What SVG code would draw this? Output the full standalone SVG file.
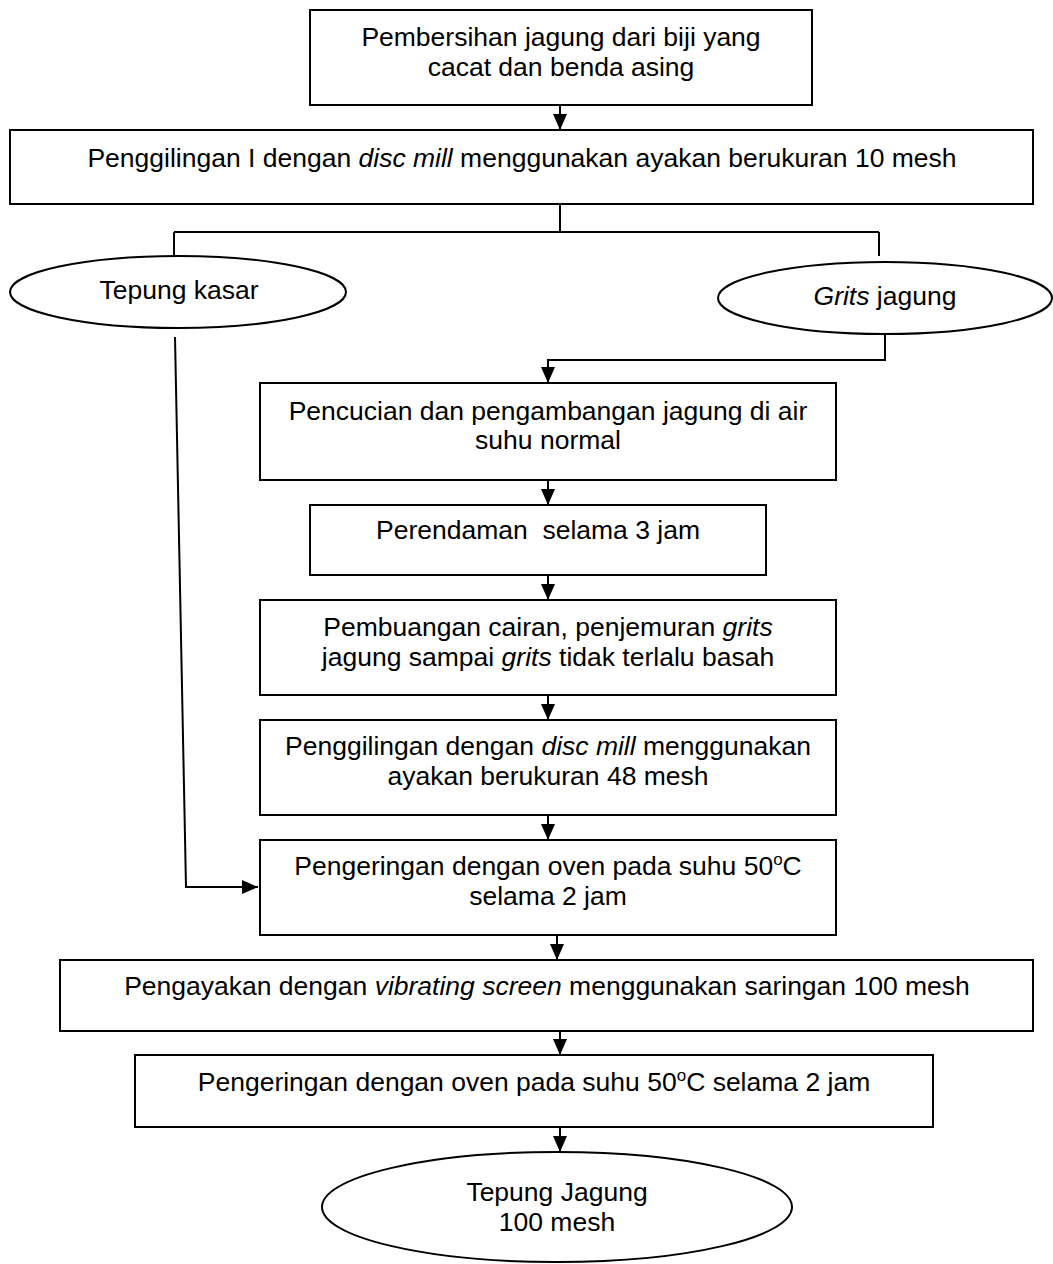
<svg xmlns="http://www.w3.org/2000/svg" width="1053" height="1264" viewBox="0 0 1053 1264">
<defs>
<marker id="ah" markerUnits="userSpaceOnUse" markerWidth="16" markerHeight="14" viewBox="0 0 16 14" refX="16" refY="7" orient="auto">
<path d="M0,0 L16,7 L0,14 Z" fill="#000"/>
</marker>
</defs>
<style>
.b{fill:#fff;stroke:#000;stroke-width:2}
.c{fill:none;stroke:#000;stroke-width:2}
.a{marker-end:url(#ah)}
text{font-family:"Liberation Sans",Arial,sans-serif;font-size:26.5px;fill:#000;text-anchor:middle}
.i{font-style:italic}
.s{font-size:17px}
</style>
<rect width="1053" height="1264" fill="#fff"/>
<g id="connectors">
<path class="c a" d="M560,105 V130"/>
<path class="c" d="M560,204 V232 M174,232 H879 M174,232 V256 M879,232 V256"/>
<path class="c a" d="M885,334 V360 H548 V383"/>
<path class="c a" d="M175,337 L186,887 H258"/>
<path class="c a" d="M548,480 V505"/>
<path class="c a" d="M548,575 V600"/>
<path class="c a" d="M548,695 V720"/>
<path class="c a" d="M548,815 V840"/>
<path class="c a" d="M557,935 V960"/>
<path class="c a" d="M560,1031 V1055"/>
<path class="c a" d="M560,1127 V1152"/>
</g>
<g id="n1"><rect class="b" x="310" y="10" width="502" height="95"/>
<text x="561" y="46">Pembersihan jagung dari biji yang</text>
<text x="561" y="76">cacat dan benda asing</text></g>
<g id="n2"><rect class="b" x="10" y="130" width="1023" height="74"/>
<text x="522" y="167">Penggilingan I dengan <tspan class="i">disc mill</tspan> menggunakan ayakan berukuran 10 mesh</text></g>
<g id="n3"><ellipse class="b" cx="178" cy="292" rx="168" ry="36"/>
<text x="179" y="299">Tepung kasar</text></g>
<g id="n4"><ellipse class="b" cx="885" cy="298" rx="167" ry="36"/>
<text x="885" y="305"><tspan class="i">Grits</tspan> jagung</text></g>
<g id="n5"><rect class="b" x="260" y="383" width="576" height="97"/>
<text x="548" y="420">Pencucian dan pengambangan jagung di air</text>
<text x="548" y="449">suhu normal</text></g>
<g id="n6"><rect class="b" x="310" y="505" width="456" height="70"/>
<text x="538" y="539" xml:space="preserve">Perendaman  selama 3 jam</text></g>
<g id="n7"><rect class="b" x="260" y="600" width="576" height="95"/>
<text x="548" y="636">Pembuangan cairan, penjemuran <tspan class="i">grits</tspan></text>
<text x="548" y="666">jagung sampai <tspan class="i">grits</tspan> tidak terlalu basah</text></g>
<g id="n8"><rect class="b" x="260" y="720" width="576" height="95"/>
<text x="548" y="755">Penggilingan dengan <tspan class="i">disc mill</tspan> menggunakan</text>
<text x="548" y="785">ayakan berukuran 48 mesh</text></g>
<g id="n9"><rect class="b" x="260" y="840" width="576" height="95"/>
<text x="548" y="875">Pengeringan dengan oven pada suhu 50<tspan class="s" dy="-10">o</tspan><tspan dy="10">C</tspan></text>
<text x="548" y="905">selama 2 jam</text></g>
<g id="n10"><rect class="b" x="60" y="960" width="973" height="71"/>
<text x="547" y="995">Pengayakan dengan <tspan class="i">vibrating screen</tspan> menggunakan saringan 100 mesh</text></g>
<g id="n11"><rect class="b" x="135" y="1055" width="798" height="72"/>
<text x="534" y="1091">Pengeringan dengan oven pada suhu 50<tspan class="s" dy="-10">o</tspan><tspan dy="10">C selama 2 jam</tspan></text></g>
<g id="n12"><ellipse class="b" cx="557" cy="1207" rx="235" ry="55"/>
<text x="557" y="1201">Tepung Jagung</text>
<text x="557" y="1231">100 mesh</text></g>
</svg>
